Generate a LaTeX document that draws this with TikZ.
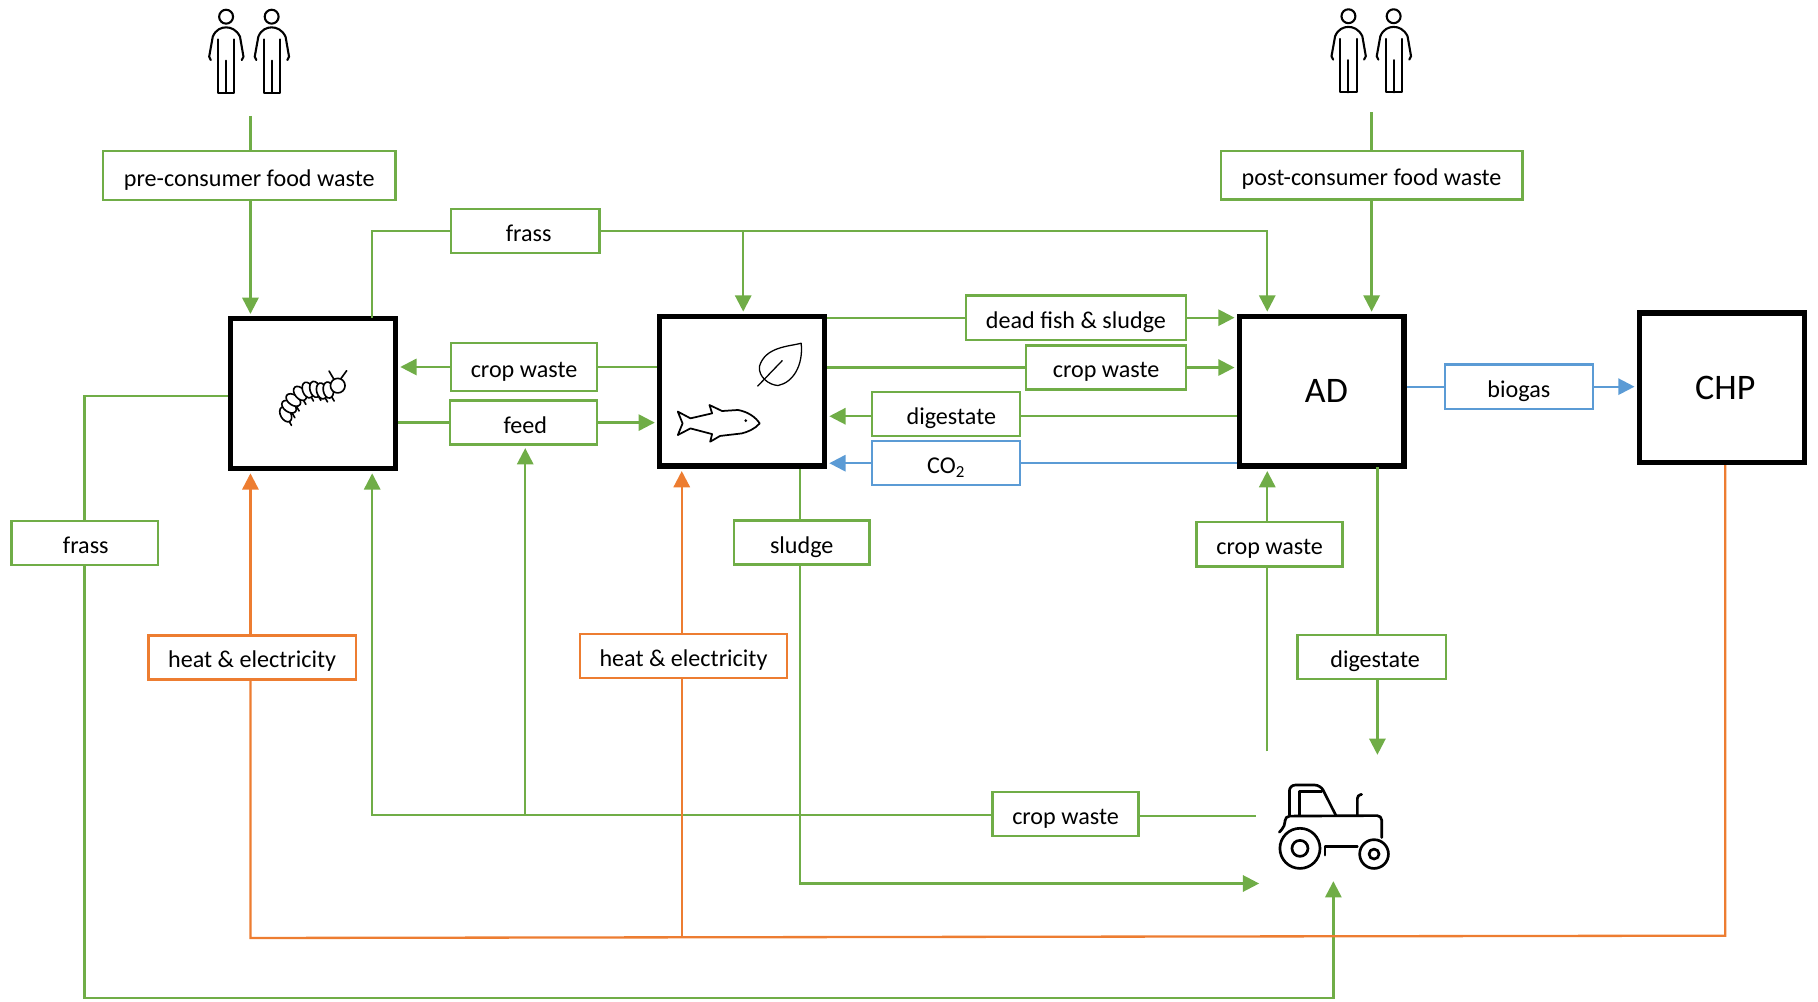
\documentclass[tikz,border=0pt]{standalone}
\usepackage{fontspec}
\setmainfont{Carlito}
\usetikzlibrary{arrows.meta}
\definecolor{grn}{RGB}{112, 173, 71}
\definecolor{org}{RGB}{237, 125, 49}
\definecolor{blu}{RGB}{91, 155, 213}
\tikzset{
  bigbox/.style={draw=black, line width=4.5, minimum width=142, minimum height=129, inner sep=0, font=\fontsize{31}{36}\selectfont},
  tag/.style={draw=#1, line width=2, fill=white, minimum height=38, inner sep=0, text height=18, text depth=0, font=\fontsize{20.8}{24}\selectfont},
  tag/.default=grn,
  flow/.style={draw=#1, line width=2},
  flow/.default=grn,
  arr/.style={flow=#1, shorten >=2, -{Triangle[length=14, width=14]}},
  arr/.default=grn,
  icon/.style={line width=#1, line cap=round, line join=round},
  person/.pic={
    \draw [icon=1.8] (0, 0) circle (6);
    \draw [icon=1.8] (-13.2, 37.4) -- (-14.6, 34.5) -- (-11.5, 17.3) .. controls (-9, 11) and (-4, 9.2) .. (0, 9.2)
      .. controls (4, 9.2) and (9, 11) .. (12, 17.3) -- (15, 34.5) -- (13.5, 37.4);
    \draw [icon=1.8] (-7, 19.5) -- (-7, 65.6) -- (7, 65.6) -- (7, 19.5);
    \draw [icon=1.8] (0, 37.9) -- (0, 65.6);
  }
}

\begin{document}
\begin{tikzpicture}[x=1pt, y=-1pt]
  \useasboundingbox (0, 0) rectangle (1568, 864);

  % Process boxes
  \node [bigbox] (larvabox) at (270, 339.5) {};
  \node [bigbox] (fishbox) at (640, 337.5) {};
  \node [bigbox] (adbox) at (1140, 337.5) {\hspace*{8pt}AD};
  \node [bigbox] (chpbox) at (1485, 334.5) {\hspace*{6pt}CHP};

  % Stream labels
  \node [tag, minimum width=252, minimum height=42] (precons) at (215, 151.5) {pre-consumer food waste};
  \node [tag, minimum width=260, minimum height=42] (postcons) at (1183, 151) {post-consumer food waste};
  \node [tag, minimum width=128] (frasstop) at (453, 199.5) {\hspace*{6pt}frass};
  \node [tag, minimum width=190] (deadfish) at (928, 274) {dead fish \& sludge};
  \node [tag, minimum width=138] (cropright) at (954, 317) {crop waste};
  \node [tag, minimum width=126, minimum height=41] (cropleft) at (452, 316.5) {crop waste};
  \node [tag, minimum width=127] (feed) at (451.5, 364.5) {\hspace*{3pt}feed};
  \node [tag, minimum width=128] (digesttop) at (816, 357) {\hspace*{9pt}digestate};
  \node [tag=blu, minimum width=128] (carbon) at (816, 399.5) {CO\textsubscript{2}};
  \node [tag=blu, minimum width=128] (biogas) at (1310, 333.5) {biogas};
  \node [tag, minimum width=126] (frassleft) at (73, 468.5) {\hspace*{2pt}frass};
  \node [tag, minimum width=117] (sludge) at (691.5, 468) {sludge};
  \node [tag, minimum width=126] (cropad) at (1095, 469.5) {crop waste};
  \node [tag, minimum width=128] (digestlow) at (1183, 566.5) {\hspace*{6pt}digestate};
  \node [tag=org, minimum width=179] (heatleft) at (217.5, 567) {heat \& electricity};
  \node [tag=org, minimum width=179] (heatmid) at (589.5, 566) {heat \& electricity};
  \node [tag, minimum width=126] (croplow) at (919, 702) {crop waste};

  % Junctions and free ends
  \coordinate (peopleleft) at (216, 100);
  \coordinate (peopleright) at (1183, 97);
  \coordinate (larvatop) at (321, 274);
  \coordinate (frasscorner) at (1093, 199.5);
  \coordinate (frassdrop) at (641, 199.5);
  \coordinate (frassout) at (73, 341.5);
  \coordinate (frassbase) at (73, 861);
  \coordinate (farmin) at (1150, 758);
  \coordinate (heatbase) at (216, 809);
  \coordinate (heatjoin) at (588, 808);
  \coordinate (chpturn) at (1488, 807);
  \coordinate (sludgebase) at (690, 762);
  \coordinate (farmleft) at (1088, 762);
  \coordinate (cropfarm) at (1083, 704);
  \coordinate (cropturn) at (321, 703);
  \coordinate (cropjoin) at (453, 703);
  \coordinate (cropup) at (1093, 648);
  \coordinate (digestend) at (1188, 653);
  \coordinate (digestout) at (1188, 403);
  \coordinate (digestrun) at (1000, 359);

  % Food waste
  \draw [flow] (peopleleft) -- (precons.north -| peopleleft);
  \draw [arr] (precons.south -| peopleleft) -- (larvabox.north -| peopleleft);
  \draw [flow] (peopleright) -- (postcons.north -| peopleright);
  \draw [arr] (postcons.south -| peopleright) -- (adbox.north -| peopleright);

  % Frass
  \draw [flow] (larvatop) |- (frasstop.west);
  \draw [arr] (frasstop.east) -- (frasscorner) -- (adbox.north -| frasscorner);
  \draw [arr] (frassdrop) -- (fishbox.north -| frassdrop);
  \draw [flow] (larvabox.west |- frassout) -- (frassout) -- (frassleft.north -| frassout);
  \draw [arr] (frassleft.south -| frassbase) -- (frassbase) -- (frassbase -| farmin) -- (farmin);

  % Between the boxes
  \draw [flow] (fishbox.west |- cropleft.east) -- (cropleft.east);
  \draw [arr] (cropleft.west) -- (larvabox.east |- cropleft.west);
  \draw [flow] (larvabox.east |- feed.west) -- (feed.west);
  \draw [arr] (feed.east) -- (fishbox.west |- feed.east);
  \draw [flow] (fishbox.east |- deadfish.west) -- (deadfish.west);
  \draw [arr] (deadfish.east) -- (adbox.west |- deadfish.east);
  \draw [flow] (fishbox.east |- cropright.west) -- (cropright.west);
  \draw [arr] (cropright.east) -- (adbox.west |- cropright.east);
  \draw [flow] (adbox.west |- digestrun) -- (digesttop.east |- digestrun);
  \draw [arr] (digesttop.west |- digestrun) -- (fishbox.east |- digestrun);
  \draw [flow=blu] (adbox.west |- carbon.east) -- (carbon.east);
  \draw [arr=blu] (carbon.west) -- (fishbox.east |- carbon.west);
  \draw [flow=blu] (adbox.east |- biogas.west) -- (biogas.west);
  \draw [arr=blu] (biogas.east) -- (chpbox.west |- biogas.east);

  % Sludge
  \draw [flow] (sludge.north -| sludgebase) -- (fishbox.south -| sludgebase);
  \draw [arr] (sludge.south -| sludgebase) -- (sludgebase) -- (farmleft);

  % Crop waste from the farm
  \draw [flow] (cropfarm) -- (croplow.east |- cropfarm);
  \draw [arr] (croplow.west |- cropturn) -- (cropturn) -- (larvabox.south -| cropturn);
  \draw [arr] (cropjoin) -- (feed.south -| cropjoin);
  \draw [flow] (cropup) -- (cropad.south -| cropup);
  \draw [arr] (cropad.north -| cropup) -- (adbox.south -| cropup);

  % Digestate to the farm
  \draw [flow] (digestout) -- (digestlow.north -| digestout);
  \draw [arr] (digestlow.south -| digestout) -- (digestend);

  % Heat and electricity
  \draw [flow=org] (chpbox.south -| chpturn) -- (chpturn) -- (heatbase) -- (heatleft.south -| heatbase);
  \draw [arr=org] (heatleft.north -| heatbase) -- (larvabox.south -| heatbase);
  \draw [flow=org] (heatjoin) -- (heatmid.south -| heatjoin);
  \draw [arr=org] (heatmid.north -| heatjoin) -- (fishbox.south -| heatjoin);

  % People
  \pic at (195, 14.4) {person};
  \pic at (234.3, 14.4) {person};
  \pic at (1163, 14) {person};
  \pic at (1202, 14) {person};

  % Larva
  \foreach \px/\py/\pa in {246.4/357.4/30, 249.3/350.8/55, 253/345/55, 258.8/339.3/40, 265.4/336.4/20, 271.7/335.8/15, 277.5/337.2/15, 283.2/336.4/10} {
    \draw [icon=1.4] (\px + 3, \py + 6) -- (\px + 5, \py + 9.5);
  }
  \foreach \px/\py/\pa in {246.4/357.4/30, 249.3/350.8/55, 253/345/55, 258.8/339.3/40, 265.4/336.4/20, 271.7/335.8/15, 277.5/337.2/15, 283.2/336.4/10} {
    \draw [icon=1.4, fill=white] (\px, \py) ellipse [x radius=4.4, y radius=7, rotate=\pa];
  }
  \draw [icon=1.4, fill=white] (291.3, 332.6) circle (6.3);
  \draw [icon=1.4] (287.5, 326.3) -- (283.8, 320);
  \draw [icon=1.4] (294.2, 326.3) -- (299, 319.7);

  % Fish
  \draw [icon=1.5] (584.6, 355) -- (595.5, 360.8) -- (614.2, 356.5) -- (611.9, 349.3) -- (622.8, 354.5) -- (636.4, 353.6)
    .. controls (645, 355) and (652, 360) .. (655.2, 365.2) .. controls (651, 370) and (645, 372.5) .. (639.8, 373.8)
    -- (621, 376) -- (612.5, 381) -- (614.2, 374.4) -- (595.5, 369.5) -- (584.6, 375.2) -- (588.7, 365.2) -- cycle;
  \fill (643.2, 362.8) circle (1.3);

  % Leaf
  \draw [icon=1.1] (691, 296) .. controls (680, 299) and (660, 299) .. (655, 316)
    .. controls (654, 325) and (663, 332) .. (671, 332.5) .. controls (684, 330) and (693, 315) .. (691, 296);
  \draw [icon=1.1] (653.5, 333) -- (674.7, 311);

  % Tractor
  \draw [icon=2.3] (1121.2, 731.7) circle (17.3);
  \draw [icon=2.3] (1121.2, 731.7) circle (6.9);
  \draw [icon=2.3] (1185.1, 736.6) circle (12.4);
  \draw [icon=2.3] (1185.1, 736.6) circle (4.3);
  \draw [icon=2.3, rounded corners=4] (1191.7, 722.3) -- (1191.7, 703.4) -- (1108.3, 703.9) -- (1108.3, 712.5) -- (1103.4, 717.7);
  \draw [icon=2.3] (1142.8, 737.5) -- (1142.8, 730.3) -- (1170.7, 730.3);
  \draw [icon=2.3, rounded corners=5] (1112.1, 703) -- (1112.1, 677.1) -- (1139, 677.1) -- (1152, 703);
  \draw [icon=2.3] (1120.7, 703) -- (1120.7, 682.9) -- (1139.9, 682.9);
  \draw [icon=2.3, rounded corners=3] (1170.7, 703) -- (1170.7, 685.6) -- (1174.4, 685.2);
\end{tikzpicture}
\end{document}
